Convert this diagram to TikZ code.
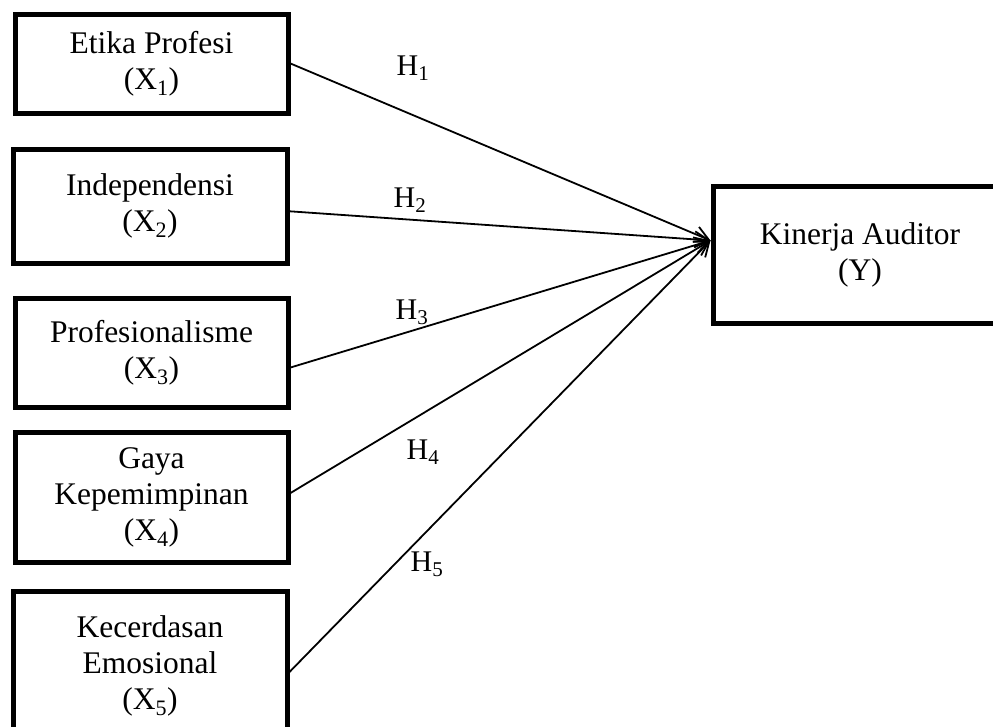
\documentclass[tikz,border=0pt]{standalone}
\usepackage{fontspec}
\setmainfont{Liberation Serif}
\usetikzlibrary{arrows.meta}
\begin{document}
\begin{tikzpicture}[x=1pt,y=-1pt,
  varbox/.style={draw, line width=5pt, align=center, inner sep=0pt,
    font=\fontsize{31.5}{36}\selectfont},
  hlab/.style={font=\fontsize{30}{36}\selectfont, inner sep=0pt},
  link/.style={line width=1.8pt, -{Straight Barb[length=14pt,width=16pt,line width=1.8pt]}}]
\useasboundingbox (0,0) rectangle (993,726);
\clip (0,0) rectangle (993,726);
\node[varbox, minimum width=273pt, minimum height=99pt] (b1) at (151.5,63.5) {Etika Profesi\\(X\textsubscript{1})};
\node[varbox, minimum width=274pt, minimum height=114pt] (b2) at (150,206) {Independensi\\(X\textsubscript{2})};
\node[varbox, minimum width=273pt, minimum height=109pt] (b3) at (151.5,352.5) {Profesionalisme\\(X\textsubscript{3})};
\node[varbox, minimum width=273pt, minimum height=130pt] (b4) at (151.5,497) {Gaya\\Kepemimpinan\\(X\textsubscript{4})};
\node[varbox, minimum width=274pt, minimum height=150pt] (b5) at (150,666) {Kecerdasan\\Emosional\\(X\textsubscript{5})};
\node[varbox, minimum width=294pt, minimum height=137pt] (y) at (860,254.5) {Kinerja Auditor\\(Y)};
\coordinate (tip) at ([yshift=14pt]y.west);
\draw[link] (b1.east) -- (tip);
\draw[link] ([xshift=-4pt,yshift=-5pt]b2.east) -- (tip);
\draw[link] ([yshift=-15pt]b3.east) -- (tip);
\draw[link] ([yshift=4pt]b4.east) -- (tip);
\draw[link] ([yshift=-6pt]b5.east) -- (tip);
\node[hlab] (h1) at (413,68) {H\textsubscript{1}};
\node[hlab] (h2) at (410,200) {H\textsubscript{2}};
\node[hlab] (h3) at (412,312) {H\textsubscript{3}};
\node[hlab] (h4) at (423,452) {H\textsubscript{4}};
\node[hlab] (h5) at (427,564) {H\textsubscript{5}};
\end{tikzpicture}
\end{document}
